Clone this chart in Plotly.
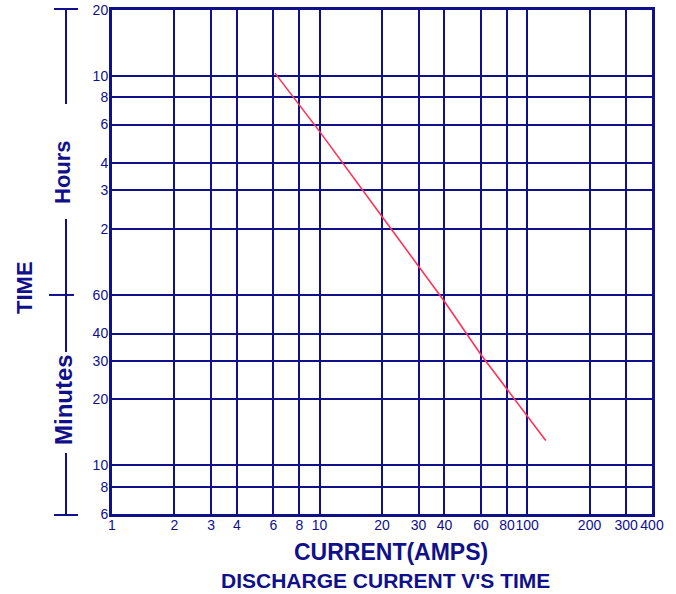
import math
import plotly.graph_objects as go

NAVY = "#10108a"
RED = "#ff3355"

# Data
current_amps = [6.1, 10, 20, 40, 60, 100, 123]
time_minutes = [618, 335, 137, 56, 32, 16.8, 13]

x_tick_vals = [1, 2, 3, 4, 6, 8, 10, 20, 30, 40, 60, 80, 100, 200, 300, 400]
x_tick_text = ["1", "2", "3", "4", "6", "8", "10", "20", "30", "40", "60", "80", "100", "200", "300", "400"]
y_tick_vals = [6, 8, 10, 20, 30, 40, 60, 120, 180, 240, 360, 480, 600, 1200]
y_tick_text = ["6", "8", "10", "20", "30", "40", "60", "2", "3", "4", "6", "8", "10", "20"]

Y_MIN, Y_MAX = 6, 1200
X_MIN, X_MAX = 1, 400

fig = go.Figure()
fig.add_trace(go.Scatter(x=current_amps, y=time_minutes, mode="lines",
                         line=dict(color=RED, width=1.6), hoverinfo="skip",
                         showlegend=False))

font = "Arial, Liberation Sans, sans-serif"
fig.update_xaxes(type="log", range=[math.log10(X_MIN) - 1e-5, math.log10(X_MAX) + 1e-5],
                 tickvals=x_tick_vals, ticktext=x_tick_text, tickangle=0,
                 showgrid=True, gridcolor=NAVY, gridwidth=2,
                 showline=True, linecolor=NAVY, linewidth=3, mirror=True,
                 ticks="", ticklabelstandoff=-4, ticklabeloverflow="allow",
                 automargin=False,
                 tickfont=dict(family=font, size=14, color=NAVY))
fig.update_yaxes(type="log", range=[math.log10(Y_MIN) - 1e-5, math.log10(Y_MAX) + 1e-5],
                 tickvals=y_tick_vals, ticktext=y_tick_text, showgrid=True,
                 gridcolor=NAVY, gridwidth=2, showline=True, linecolor=NAVY,
                 linewidth=3, mirror=True, ticks="", ticklabelstandoff=-2,
                 ticklabeloverflow="allow", automargin=False,
                 tickfont=dict(family=font, size=14, color=NAVY))

def yfrac(v):
    return (math.log10(v) - math.log10(Y_MIN)) / (math.log10(Y_MAX) - math.log10(Y_MIN))

# page pixel -> paper coords
W = 540.0
H = 504.0
def px(xp):
    return (xp - 112) / W
def py(yp):
    return (514 - yp) / H

lx = px(66)
shapes = []
def seg(x0, y0, x1, y1):
    shapes.append(dict(type="line", xref="paper", yref="paper", x0=x0, y0=y0,
                       x1=x1, y1=y1, line=dict(color=NAVY, width=2)))
seg(px(54), py(9), px(78), py(9))
seg(lx, py(9), lx, py(104))
seg(lx, py(219), lx, yfrac(60))
seg(px(49), yfrac(60), px(74), yfrac(60))
seg(lx, yfrac(60), lx, py(352))
seg(lx, py(453), lx, py(515))
seg(px(54), py(515), px(78), py(515))
fig.update_layout(shapes=shapes)

ann = [
    dict(text="<b>Hours</b>", x=px(63), y=py(172), textangle=-90, size=22),
    dict(text="<b>Minutes</b>", x=px(63), y=py(400), textangle=-90, size=24),
    dict(text="<b>TIME</b>", x=px(24), y=py(288), textangle=-90, size=22),
    dict(text="<b>CURRENT(AMPS)</b>", x=px(391), y=py(552), textangle=0, size=23),
    dict(text="<b>DISCHARGE CURRENT V'S TIME</b>", x=px(385), y=py(580), textangle=0, size=21),
]
for a in ann:
    fig.add_annotation(text=a["text"], x=a["x"], y=a["y"], xref="paper", yref="paper",
                       showarrow=False, textangle=a["textangle"],
                       xanchor="center", yanchor="middle",
                       font=dict(family=font, size=a["size"], color=NAVY))

fig.update_layout(width=676, height=594, autosize=False,
                  margin=dict(l=112, r=24, t=10, b=80, autoexpand=False),
                  plot_bgcolor="white", paper_bgcolor="white")

fig.write_html("out.html", config={"displayModeBar": False},
               post_script="document.body.style.margin='0';document.body.style.overflow='hidden';")
